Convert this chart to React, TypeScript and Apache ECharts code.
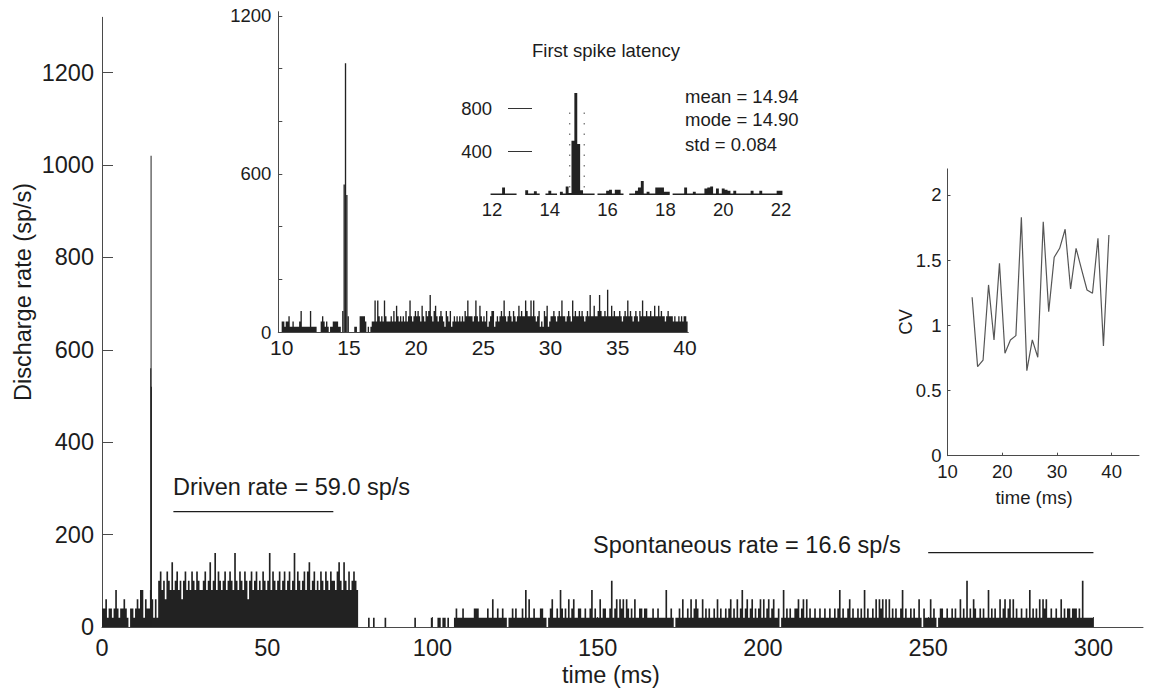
import React, { useEffect, useRef } from 'react';
import * as echarts from 'echarts';

const FONT = '"Liberation Sans", Arial, Helvetica, sans-serif';
const INK = '#1c1c1c';
const BAR = '#222222';
const AXIS = '#4a4a4a';
const MAIN_FS = 23.5;

// ---------- Main PSTH (0.5 ms bins, one digit = spikes per bin, x20 sp/s), one string per 10 ms ----------
const mainBinMs = 0.5;
const spPerCount = 20;
const mainCounts = [
  '22312212421223210221', // 0-10
  '23244132243131564536', // 10-20
  '54745645356454654654', // 20-30
  '45645745846545645654', // 30-40
  '85465465356456454654', // 40-50
  '58465456456456458465', // 50-60
  '45646745645465465465', // 60-70
  '54675475464565400000', // 70-80
  '01001000000100000000', // 80-90
  '00000000010000000001', // 90-100
  '00011011010001211121', // 100-110
  '11111222111112113112', // 110-120
  '11211011212111214131', // 120-130
  '12111221101231121421', // 130-140
  '21312311221121124121', // 140-150
  '13122112512313231321', // 150-160
  '21311221221112112111', // 160-170
  '14112101121311213123', // 170-180
  '21131212112131211212', // 180-190
  '31213124123123121231', // 190-200
  '31231231120141212112', // 200-210
  '23123131211211211211', // 210-220
  '21121241211231211212', // 220-230
  '14121121313231313121', // 230-240
  '21124121121211310211', // 240-250
  '13121012211211212113', // 250-260
  '12151213211212114121', // 260-270
  '21131231231312112112', // 270-280
  '14121213132311211211', // 280-290
  '31212212221215111111', // 290-300
];
// onset peak, 0.1 ms bins: [start ms, end ms, rate sp/s]
const peakBins = [
  [14.6, 14.7, 560],
  [14.7, 14.8, 1020],
  [14.8, 14.9, 520],
];

// ---------- Inset PSTH 10-40 ms (0.1 ms bins), one string per ms ----------
const insetStart = 10;
const insetBinMs = 0.1;
const insetCounts = [
  '2212231121', '1112411111', '1411110002', '3212101122', '2211040003',
  '0000110033', '3320101226', '2632326322', '2324253232', '3242363234',
  '3432532434', '7324532343', '2143241232', '3232324363', '3323632532',
  '3241234412', '3234363234', '3243235343', '3643363632', '3412143512',
  '3343234363', '3234326343', '3434323437', '3353347433', '4383353433',
  '3432343634', '3234324363', '3433433533', '5343323433', '3232232323',
  '32',
];

// ---------- First spike latency histogram (bin centres from 12.0 ms, 0.1 ms) ----------
const latencyStart = 12;
const latencyBinMs = 0.1;
const latencyCounts = [
  [15, 15, 15, 15, 70, 15, 15, 15, 15, 0],
  [0, 0, 45, 15, 15, 35, 15, 0, 0, 15],
  [40, 15, 15, 0, 30, 15, 80, 20, 500, 940],
  [470, 45, 15, 15, 15, 15, 0, 15, 15, 15],
  [40, 50, 15, 50, 50, 15, 0, 0, 15, 15],
  [40, 70, 130, 15, 30, 15, 15, 70, 70, 70],
  [30, 30, 0, 15, 15, 15, 15, 70, 15, 15],
  [30, 15, 15, 15, 60, 70, 80, 15, 60, 15],
  [60, 50, 40, 15, 40, 15, 15, 15, 15, 15],
  [40, 15, 15, 40, 15, 15, 15, 15, 15, 40],
  [40],
];
const latencyMean = 14.94;
const latencyMode = 14.9;
const latencyStd = 0.084;

// ---------- CV ----------
const cvTime = [14.5, 15.5, 16.5, 17.5, 18.5, 19.5, 20.5, 21.5, 22.5, 23.5, 24.5, 25.5, 26.5,
  27.5, 28.5, 29.5, 30.5, 31.5, 32.5, 33.5, 34.5, 35.5, 36.5, 37.5, 38.5, 39.5];
const cvValue = [1.215, 0.683, 0.734, 1.31, 0.888, 1.476, 0.786, 0.888, 0.921, 1.829, 0.652, 0.888, 0.755,
  1.795, 1.105, 1.522, 1.591, 1.737, 1.279, 1.591, 1.43, 1.271, 1.246, 1.668, 0.842, 1.693];

// ---------- annotations ----------
const drivenRate = 59.0;
const spontRate = 16.6;
const drivenLine = [[21.6, 250], [70, 250]];
const spontLine = [[250, 161], [300, 161]];

// ---------- ticks ----------
const mainXTicks = [0, 50, 100, 150, 200, 250, 300];
const mainYTicks = [0, 200, 400, 600, 800, 1000, 1200];
const insetXTicks = [10, 15, 20, 25, 30, 35, 40];
const insetYTicks = [0, 200, 400, 600, 800, 1000, 1200];
const insetYLabels = [0, 600, 1200];
const latencyXTicks = [12, 14, 16, 18, 20, 22];
const latencyYTicks = [400, 800];
const cvXTicks = [10, 20, 30, 40];
const cvYTicks = [0, 0.5, 1, 1.5, 2];

const digitsToRates = (rows: string[]) => rows.join('').split('').map((d) => Number(d) * spPerCount);

// step-outline histogram: values[i] covers [start + i*w, start + (i+1)*w]
function stepHistogram(values: number[], start: number, width: number) {
  return (params: any, api: any) => {
    if (params.dataIndex !== 0) return null;
    const pts: number[][] = [api.coord([start, 0])];
    values.forEach((v, i) => {
      pts.push(api.coord([start + i * width, v]));
      pts.push(api.coord([start + (i + 1) * width, v]));
    });
    pts.push(api.coord([start + values.length * width, 0]));
    return { type: 'polygon', shape: { points: pts }, style: { fill: BAR, stroke: 'none' } };
  };
}

function rectItem(minWidth: number) {
  return (_params: any, api: any) => {
    const a = api.coord([api.value(0), api.value(2)]);
    const b = api.coord([api.value(1), 0]);
    const w = Math.max(b[0] - a[0], minWidth);
    return {
      type: 'rect',
      shape: { x: a[0], y: a[1], width: w, height: b[1] - a[1] },
      style: { fill: BAR },
    };
  };
}

const plain = (v: number) => String(v);
const lbl = (size: number, extra: any = {}) => ({
  fontSize: size,
  fontFamily: FONT,
  color: INK,
  formatter: plain,
  ...extra,
});

const txt = (text: string, x: number, y: number, size: number, align: string, rotation = 0) => ({
  type: 'text',
  x,
  y,
  rotation,
  silent: true,
  style: { text, fontSize: size, fontFamily: FONT, fill: INK, align, verticalAlign: 'middle' },
});

export default function App() {
  const ref = useRef<HTMLDivElement>(null);

  useEffect(() => {
    if (!ref.current) return;
    const chart = echarts.init(ref.current, undefined, { renderer: 'svg' });

    const mainRates = digitsToRates(mainCounts);
    const insetRates = digitsToRates(insetCounts);
    const latencyValues = latencyCounts.flat();
    const latencyEdge = latencyStart - latencyBinMs / 2;

    const lo = latencyMean - 3 * latencyStd;
    const hi = latencyMean + 3 * latencyStd;

    const axisLine = (show = true) => ({ show, lineStyle: { color: AXIS, width: 1 } });

    const hist = (xi: number, values: number[], start: number, w: number) => ({
      type: 'custom', xAxisIndex: xi, yAxisIndex: xi, silent: true,
      renderItem: stepHistogram(values, start, w),
      encode: { x: 0, y: 1 },
      data: values.map((v, i) => [start + (i + 0.5) * w, v]),
    });

    chart.setOption({
      animation: false,
      backgroundColor: '#ffffff',
      grid: [
        { left: 102, top: 17.3, width: 1041, height: 609.7, outerBoundsMode: 'none' },
        { left: 278.3, top: 11.7, width: 410, height: 320.3, outerBoundsMode: 'none' },
        { left: 492, top: 86.6, width: 289, height: 108.5, outerBoundsMode: 'none' },
        { left: 947.5, top: 168.9, width: 191.5, height: 286.8, outerBoundsMode: 'none' },
      ],
      xAxis: [
        {
          gridIndex: 0, type: 'value', min: 0, max: 315,
          axisLine: axisLine(),
          axisTick: { inside: true, length: 10, customValues: mainXTicks, lineStyle: { color: AXIS } },
          axisLabel: lbl(MAIN_FS, { margin: 9, customValues: mainXTicks }),
          splitLine: { show: false },
        },
        {
          gridIndex: 1, type: 'value', min: 9.75, max: 40.25,
          axisLine: axisLine(),
          axisTick: { show: false },
          axisLabel: lbl(21, { margin: 5, customValues: insetXTicks }),
          splitLine: { show: false },
        },
        {
          gridIndex: 2, type: 'value', min: 12, max: 22,
          axisLine: { show: false },
          axisTick: { show: false },
          axisLabel: lbl(18.5, { margin: 5, customValues: latencyXTicks }),
          splitLine: { show: false },
        },
        {
          gridIndex: 3, type: 'value', min: 10, max: 45,
          axisLine: axisLine(),
          axisTick: { inside: true, length: 3, customValues: cvXTicks, lineStyle: { color: AXIS } },
          axisLabel: lbl(18.5, { margin: 9, lineHeight: 14, customValues: cvXTicks }),
          splitLine: { show: false },
        },
      ],
      yAxis: [
        {
          gridIndex: 0, type: 'value', min: 0, max: 1320,
          axisLine: axisLine(),
          axisTick: { inside: true, length: 11, customValues: mainYTicks, lineStyle: { color: AXIS } },
          axisLabel: lbl(MAIN_FS, { margin: 8, customValues: mainYTicks }),
          splitLine: { show: false },
        },
        {
          gridIndex: 1, type: 'value', min: 0, max: 1216,
          axisLine: axisLine(),
          axisTick: { inside: true, length: 4, customValues: insetYTicks, lineStyle: { color: AXIS } },
          axisLabel: lbl(18.5, { margin: 7, customValues: insetYLabels }),
          splitLine: { show: false },
        },
        {
          gridIndex: 2, type: 'value', min: 0, max: 1000, offset: -40,
          axisLine: { show: false },
          axisTick: { show: true, inside: false, length: 24, customValues: latencyYTicks, lineStyle: { color: '#333', width: 1 } },
          axisLabel: lbl(18.5, { margin: 40, customValues: latencyYTicks }),
          splitLine: { show: false },
        },
        {
          gridIndex: 3, type: 'value', min: 0, max: 2.2,
          axisLine: axisLine(),
          axisTick: { inside: true, length: 3, customValues: cvYTicks, lineStyle: { color: AXIS } },
          axisLabel: lbl(18.5, { margin: 6, lineHeight: 14, customValues: cvYTicks }),
          splitLine: { show: false },
        },
      ],
      series: [
        hist(0, mainRates, 0, mainBinMs),
        {
          type: 'custom', xAxisIndex: 0, yAxisIndex: 0, silent: true,
          renderItem: rectItem(1), encode: { x: [0, 1], y: 2 }, data: peakBins,
        },
        {
          type: 'line', xAxisIndex: 0, yAxisIndex: 0, silent: true, symbol: 'none',
          data: drivenLine, lineStyle: { color: INK, width: 1.2 },
        },
        {
          type: 'line', xAxisIndex: 0, yAxisIndex: 0, silent: true, symbol: 'none',
          data: spontLine, lineStyle: { color: INK, width: 1.2 },
        },
        hist(1, insetRates, insetStart, insetBinMs),
        {
          type: 'custom', xAxisIndex: 1, yAxisIndex: 1, silent: true,
          renderItem: rectItem(0), encode: { x: [0, 1], y: 2 }, data: peakBins,
        },
        hist(2, latencyValues, latencyEdge, latencyBinMs),
        {
          type: 'line', xAxisIndex: 2, yAxisIndex: 2, silent: true, symbol: 'none',
          data: [[lo, 70], [lo, 800]], lineStyle: { color: '#777', width: 1.3, type: [1.5, 9] },
        },
        {
          type: 'line', xAxisIndex: 2, yAxisIndex: 2, silent: true, symbol: 'none',
          data: [[hi, 70], [hi, 800]], lineStyle: { color: '#777', width: 1.3, type: [1.5, 9] },
        },
        {
          type: 'line', xAxisIndex: 3, yAxisIndex: 3, silent: true, symbol: 'none',
          data: cvTime.map((t, i) => [t, cvValue[i]]), lineStyle: { color: '#555', width: 1.2 },
        },
      ],
      graphic: [
        txt('Discharge rate (sp/s)', 23, 292, MAIN_FS, 'center', Math.PI / 2),
        txt('time (ms)', 611, 675, MAIN_FS, 'center'),
        txt(`Driven rate = ${drivenRate.toFixed(1)} sp/s`, 173, 487, MAIN_FS, 'left'),
        txt(`Spontaneous rate = ${spontRate.toFixed(1)} sp/s`, 593, 545, MAIN_FS, 'left'),
        txt('First spike latency', 606, 50, 18.5, 'center'),
        txt(`mean = ${latencyMean.toFixed(2)}`, 685, 96, 18.5, 'left'),
        txt(`mode = ${latencyMode.toFixed(2)}`, 685, 119, 18.5, 'left'),
        txt(`std = ${latencyStd.toFixed(3)}`, 685, 144, 18.5, 'left'),
        txt('CV', 905, 322, 18.5, 'center', Math.PI / 2),
        txt('time (ms)', 1034, 497, 18.5, 'center'),
      ],
    });

    return () => chart.dispose();
  }, []);

  return (
    <div
      ref={ref}
      style={{ position: 'fixed', left: 0, top: 0, width: 1155, height: 693, background: '#fff' }}
    />
  );
}
